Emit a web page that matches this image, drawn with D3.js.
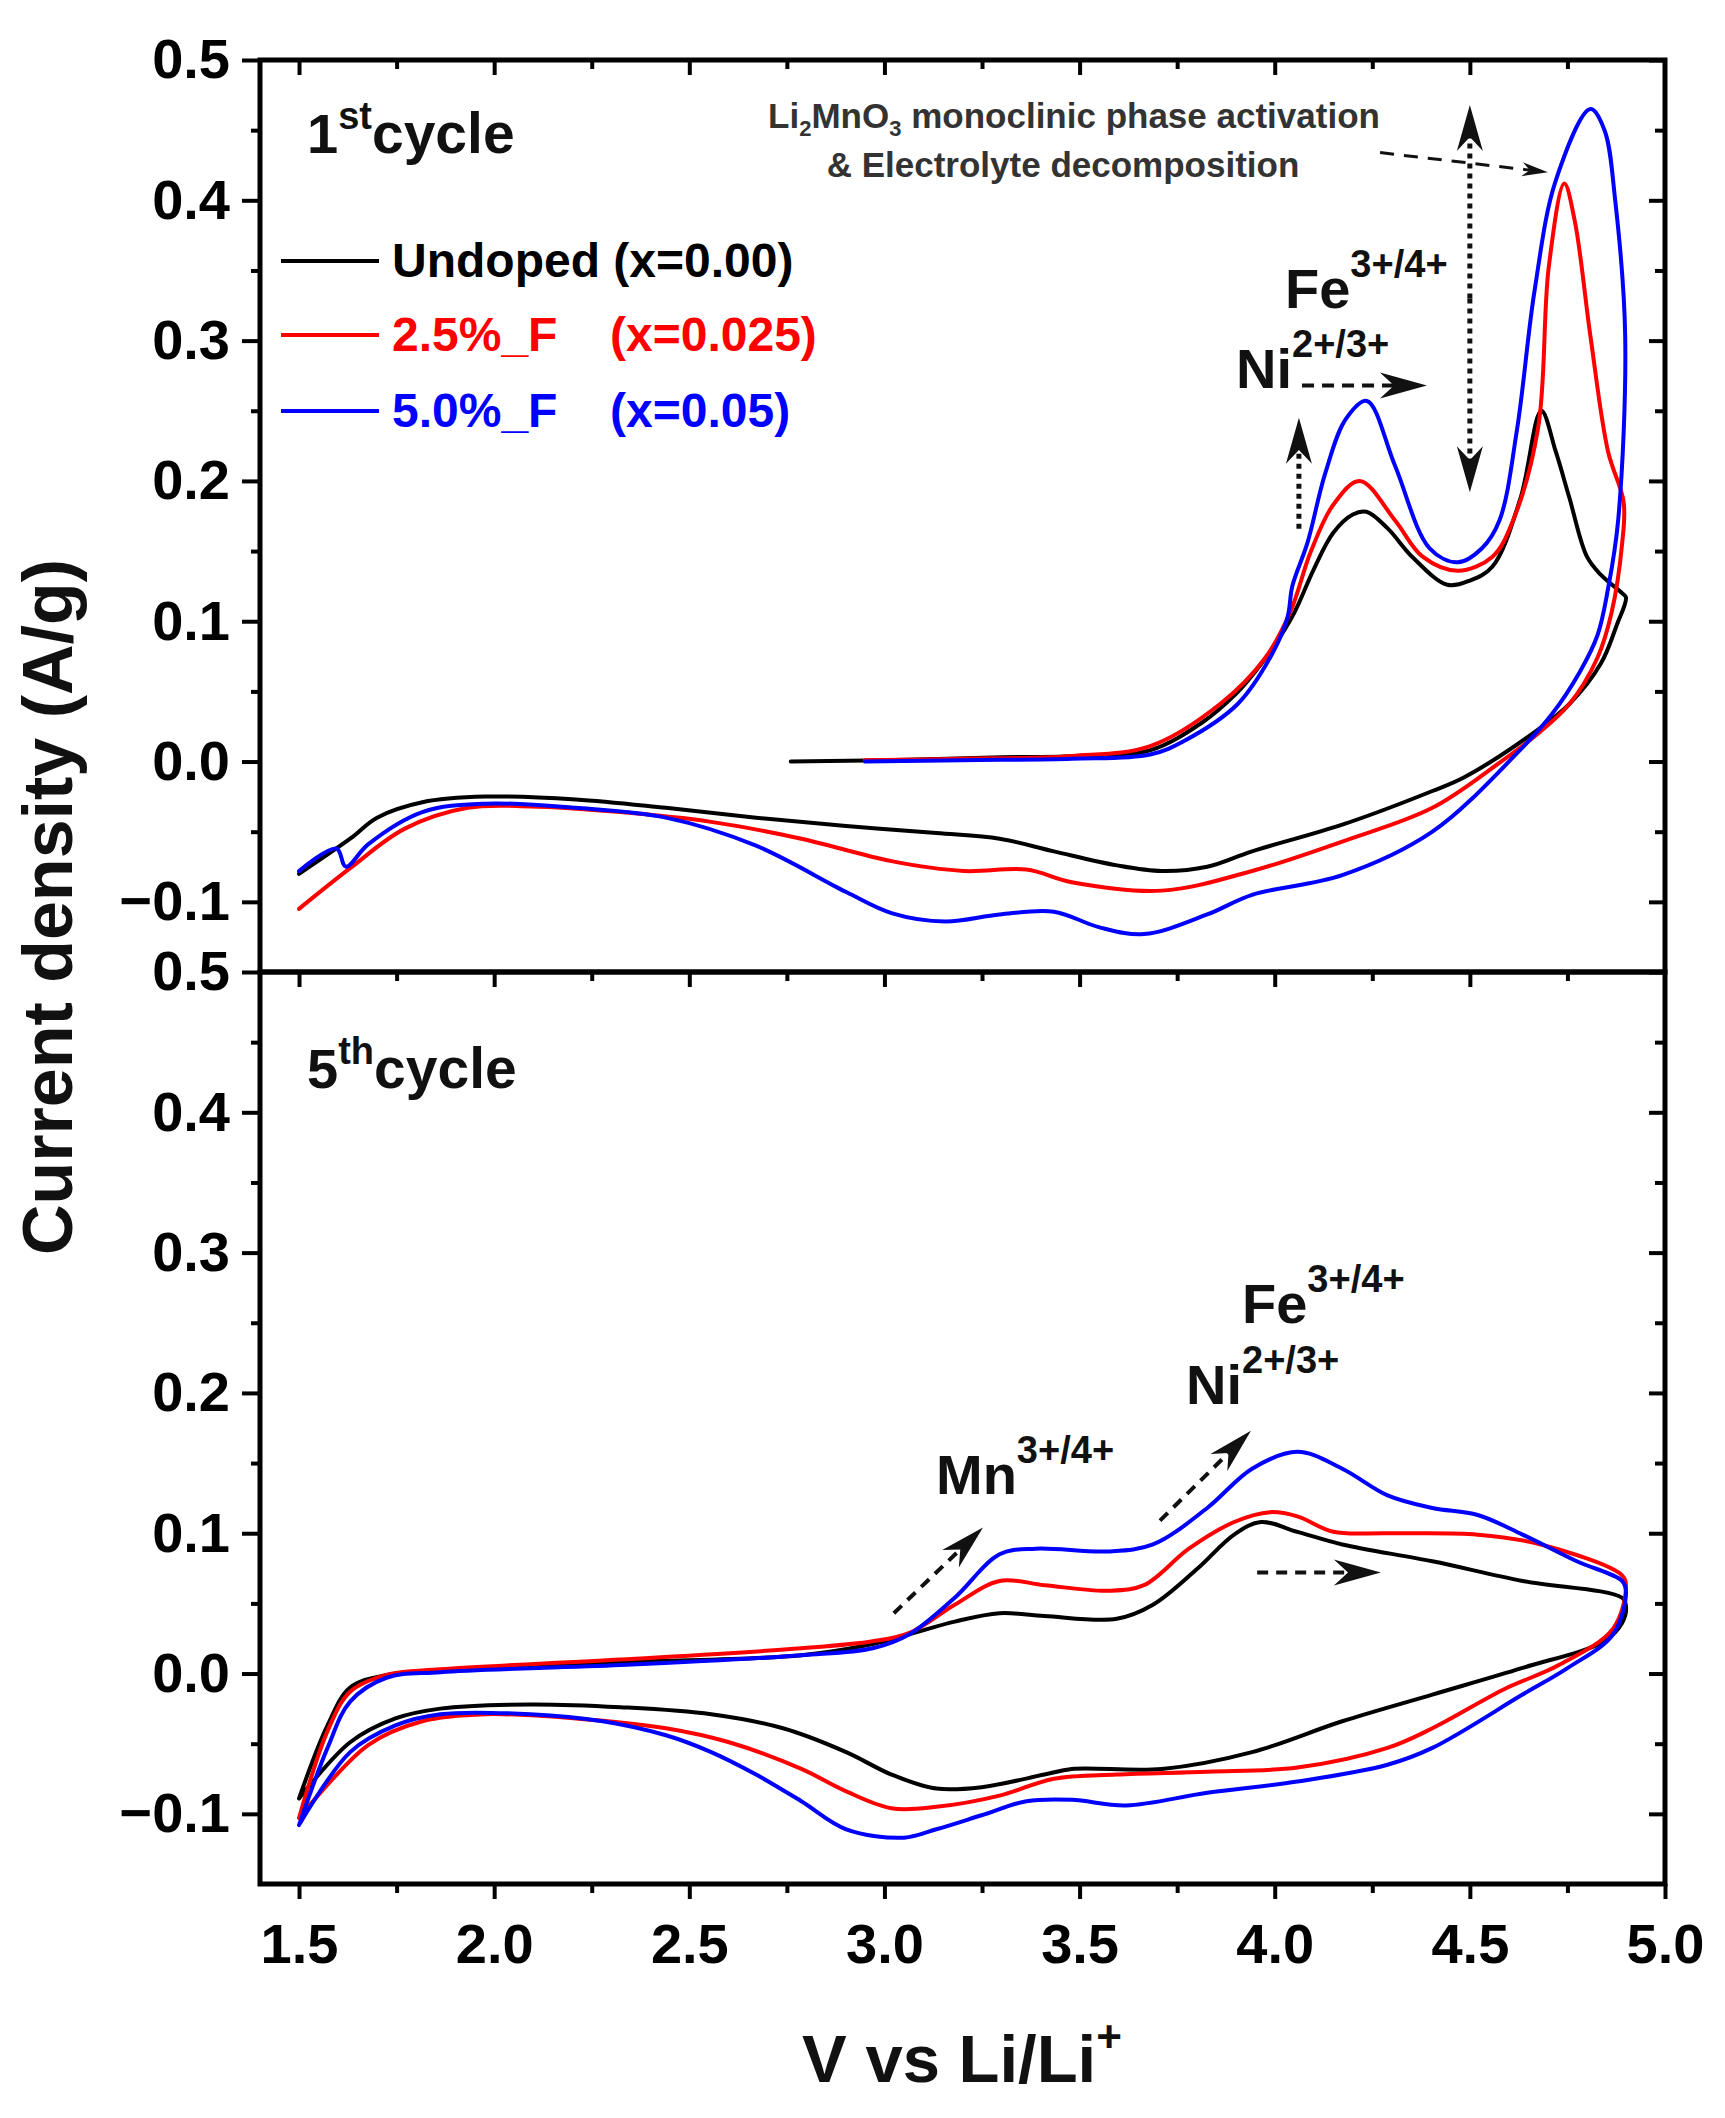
<!DOCTYPE html>
<html><head><meta charset="utf-8">
<script src="https://cdn.jsdelivr.net/npm/d3@7"></script>
<style>
body{margin:0;background:#fff}
svg{display:block}
text{font-family:"Liberation Sans",Arial,Helvetica,sans-serif;font-weight:bold;white-space:pre}
</style>
</head><body>
<script>
// ---------------- DATA ----------------
const seriesNames = ["Undoped (x=0.00)", "2.5%_F", "5.0%_F"];
const seriesX = ["", "(x=0.025)", "(x=0.05)"];
const seriesColors = ["#000000", "#ff0000", "#0000ff"];
const xTicks = [1.5, 2.0, 2.5, 3.0, 3.5, 4.0, 4.5, 5.0];
const xMinor = [1.75, 2.25, 2.75, 3.25, 3.75, 4.25, 4.75];
const yTicks = [-0.1, 0.0, 0.1, 0.2, 0.3, 0.4, 0.5];
const yMinor = [-0.05, 0.05, 0.15, 0.25, 0.35, 0.45];
const panelLabels = [["1", "st", "cycle"], ["5", "th", "cycle"]];

// 1st cycle  [V, A/g]
const undoped1st = [[2.76,0.000],[3.0,0.001],[3.3,0.003],[3.5,0.004],[3.68,0.008],[3.815,0.028],[3.9,0.048],[3.95,0.064],[4.0,0.083],[4.05,0.106],[4.1,0.137],[4.15,0.163],[4.2,0.176],[4.235,0.178],[4.29,0.166],[4.352,0.146],[4.442,0.126],[4.5,0.129],[4.558,0.139],[4.63,0.188],[4.683,0.25],[4.72,0.221],[4.755,0.188],[4.8,0.146],[4.836,0.133],[4.89,0.12],[4.9,0.117],[4.876,0.097],[4.836,0.07],[4.755,0.041],[4.666,0.021],[4.487,-0.011],[4.404,-0.021],[4.173,-0.045],[3.942,-0.064],[3.827,-0.075],[3.711,-0.078],[3.596,-0.074],[3.434,-0.064],[3.295,-0.055],[3.133,-0.051],[2.902,-0.046],[2.671,-0.040],[2.44,-0.033],[2.209,-0.027],[1.978,-0.025],[1.816,-0.029],[1.7,-0.040],[1.631,-0.055],[1.5,-0.080]];
const f25_1st = [[2.95,0.001],[3.2,0.002],[3.48,0.004],[3.681,0.011],[3.86,0.041],[3.976,0.074],[4.039,0.106],[4.093,0.150],[4.15,0.183],[4.218,0.200],[4.308,0.172],[4.379,0.146],[4.469,0.136],[4.558,0.146],[4.611,0.172],[4.675,0.238],[4.702,0.352],[4.742,0.412],[4.769,0.385],[4.809,0.303],[4.854,0.221],[4.894,0.185],[4.89,0.155],[4.863,0.106],[4.827,0.074],[4.755,0.041],[4.666,0.018],[4.58,0.0],[4.404,-0.033],[4.173,-0.057],[3.942,-0.078],[3.711,-0.092],[3.48,-0.086],[3.364,-0.077],[3.203,-0.078],[3.018,-0.071],[2.787,-0.055],[2.556,-0.043],[2.324,-0.036],[2.093,-0.032],[1.932,-0.033],[1.77,-0.048],[1.631,-0.076],[1.5,-0.105]];
const f50_1st = [[2.95,0.000],[3.2,0.001],[3.48,0.002],[3.681,0.005],[3.77,0.015],[3.905,0.041],[3.994,0.077],[4.033,0.103],[4.045,0.125],[4.084,0.156],[4.129,0.205],[4.182,0.244],[4.236,0.257],[4.308,0.211],[4.397,0.152],[4.469,0.142],[4.531,0.152],[4.576,0.172],[4.621,0.237],[4.666,0.336],[4.72,0.414],[4.809,0.465],[4.845,0.450],[4.872,0.401],[4.898,0.303],[4.88,0.172],[4.854,0.123],[4.827,0.090],[4.782,0.064],[4.711,0.034],[4.621,0.006],[4.404,-0.050],[4.173,-0.081],[3.942,-0.095],[3.827,-0.109],[3.665,-0.123],[3.549,-0.118],[3.434,-0.107],[3.295,-0.109],[3.156,-0.114],[3.018,-0.108],[2.902,-0.093],[2.671,-0.060],[2.44,-0.040],[2.209,-0.033],[1.978,-0.030],[1.816,-0.036],[1.677,-0.059],[1.62,-0.075],[1.596,-0.062],[1.5,-0.078]];

// 5th cycle  [V, A/g]
const undoped5th = [[1.5,-0.089],[1.573,-0.037],[1.631,-0.010],[1.724,-0.001],[1.862,0.002],[2.324,0.008],[2.787,0.013],[2.97,0.021],[3.064,0.028],[3.18,0.037],[3.295,0.043],[3.41,0.041],[3.595,0.039],[3.688,0.049],[3.803,0.075],[3.896,0.099],[3.965,0.108],[4.058,0.101],[4.173,0.092],[4.404,0.080],[4.635,0.066],[4.89,0.054],[4.9,0.048],[4.89,0.036],[4.844,0.023],[4.635,0.004],[4.404,-0.015],[4.173,-0.034],[3.942,-0.056],[3.711,-0.068],[3.48,-0.068],[3.41,-0.072],[3.249,-0.081],[3.133,-0.082],[3.018,-0.072],[2.902,-0.056],[2.74,-0.039],[2.556,-0.029],[2.324,-0.024],[2.093,-0.022],[1.862,-0.025],[1.747,-0.032],[1.631,-0.049],[1.5,-0.089]];
const f25_5th = [[1.5,-0.103],[1.573,-0.041],[1.631,-0.013],[1.724,-0.001],[1.862,0.003],[2.324,0.010],[2.787,0.018],[2.97,0.023],[3.064,0.029],[3.18,0.049],[3.295,0.066],[3.41,0.063],[3.572,0.059],[3.665,0.063],[3.78,0.089],[3.896,0.108],[3.988,0.115],[4.058,0.112],[4.15,0.101],[4.289,0.100],[4.52,0.099],[4.682,0.092],[4.89,0.070],[4.9,0.062],[4.867,0.032],[4.728,0.006],[4.589,-0.011],[4.404,-0.039],[4.289,-0.053],[4.058,-0.067],[3.827,-0.070],[3.595,-0.072],[3.434,-0.075],[3.295,-0.087],[3.133,-0.095],[3.018,-0.096],[2.902,-0.084],[2.787,-0.068],[2.602,-0.049],[2.44,-0.039],[2.209,-0.032],[1.978,-0.029],[1.816,-0.034],[1.677,-0.051],[1.5,-0.103]];
const f50_5th = [[1.5,-0.108],[1.573,-0.053],[1.631,-0.020],[1.724,-0.003],[1.862,0.001],[2.324,0.006],[2.787,0.013],[2.97,0.018],[3.064,0.028],[3.18,0.054],[3.295,0.085],[3.388,0.089],[3.572,0.087],[3.688,0.092],[3.827,0.118],[3.942,0.146],[4.058,0.158],[4.173,0.146],[4.289,0.127],[4.404,0.118],[4.52,0.113],[4.635,0.099],[4.774,0.080],[4.89,0.066],[4.9,0.058],[4.867,0.028],[4.751,0.004],[4.635,-0.015],[4.404,-0.053],[4.289,-0.065],[4.058,-0.077],[3.827,-0.085],[3.619,-0.094],[3.48,-0.090],[3.364,-0.091],[3.249,-0.101],[3.133,-0.111],[3.05,-0.117],[2.902,-0.111],[2.787,-0.091],[2.671,-0.072],[2.556,-0.056],[2.44,-0.044],[2.278,-0.034],[2.093,-0.029],[1.862,-0.029],[1.747,-0.037],[1.631,-0.056],[1.5,-0.108]];

const cycle1 = [undoped1st, f25_1st, f50_1st];
const cycle5 = [undoped5th, f25_5th, f50_5th];

// ---------------- LAYOUT ----------------
const W = 1725, H = 2118;
const L = 260, R = 1665;
const panels = [{top: 60, bottom: 972, data: cycle1}, {top: 972, bottom: 1884, data: cycle5}];

const svg = d3.select("body").append("svg").attr("width", W).attr("height", H);
svg.append("rect").attr("width", W).attr("height", H).attr("fill", "#fff");

const x = d3.scaleLinear().domain([1.4, 5.0]).range([L, R]);
const ys = panels.map(p => d3.scaleLinear().domain([-0.15, 0.5]).range([p.bottom, p.top]));

function styleAxis(g, fs) {
  g.select(".domain").remove();
  g.selectAll(".tick line").attr("stroke", "#000").attr("stroke-width", 4);
  g.selectAll(".tick text").attr("fill", "#000").attr("font-size", fs)
    .attr("font-family", '"Liberation Sans",Arial,sans-serif').attr("font-weight", "bold");
  g.attr("font-size", null).attr("font-family", null);
}

const line = y => d3.line().x(d => x(d[0])).y(d => y(d[1])).curve(d3.curveCatmullRom.alpha(0.5));

panels.forEach((p, i) => {
  const y = ys[i];
  const g = svg.append("g");
  p.data.forEach((s, k) => {
    g.append("path").datum(s).attr("d", line(y)).attr("fill", "none")
      .attr("stroke", seriesColors[k]).attr("stroke-width", 4)
      .attr("stroke-linejoin", "round").attr("stroke-linecap", "round");
  });
  g.append("g").attr("transform", `translate(${L},0)`)
    .call(d3.axisLeft(y).tickValues(yTicks).tickSize(18).tickPadding(12).tickFormat(d3.format(".1f")))
    .call(a => styleAxis(a, 56));
  g.append("g").attr("transform", `translate(${L},0)`)
    .call(d3.axisLeft(y).tickValues(yMinor).tickSize(9).tickFormat(""))
    .call(a => styleAxis(a, 56));
  g.append("g").attr("transform", `translate(${R},0)`)
    .call(d3.axisLeft(y).tickValues(yTicks).tickSize(16).tickFormat(""))
    .call(a => styleAxis(a, 56));
  g.append("g").attr("transform", `translate(${R},0)`)
    .call(d3.axisLeft(y).tickValues(yMinor).tickSize(10).tickFormat(""))
    .call(a => styleAxis(a, 56));
  g.append("g").attr("transform", `translate(0,${p.top})`)
    .call(d3.axisBottom(x).tickValues(xTicks.filter(v => v < 5)).tickSize(15).tickFormat(""))
    .call(a => styleAxis(a, 56));
  g.append("g").attr("transform", `translate(0,${p.top})`)
    .call(d3.axisBottom(x).tickValues(xMinor).tickSize(9).tickFormat(""))
    .call(a => styleAxis(a, 56));
  if (i === 1) {
    g.append("g").attr("transform", `translate(0,${p.bottom})`)
      .call(d3.axisBottom(x).tickValues(xTicks).tickSize(15).tickPadding(24).tickFormat(d3.format(".1f")))
      .call(a => styleAxis(a, 56));
    g.append("g").attr("transform", `translate(0,${p.bottom})`)
      .call(d3.axisBottom(x).tickValues(xMinor).tickSize(9).tickFormat(""))
      .call(a => styleAxis(a, 56));
  }
  g.append("rect").attr("x", L).attr("y", p.top).attr("width", R - L).attr("height", p.bottom - p.top)
    .attr("fill", "none").attr("stroke", "#000").attr("stroke-width", 5);
  const lbl = panelLabels[i];
  const t = g.append("text").attr("x", 307).attr("y", p.top + (i === 0 ? 93 : 116)).attr("fill", "#111");
  t.append("tspan").attr("font-size", 56).text(lbl[0]);
  t.append("tspan").attr("font-size", 38).attr("dy", -24).text(lbl[1]);
  t.append("tspan").attr("font-size", 57).attr("dy", 24).text(lbl[2]);
});

// ---------------- LEGEND ----------------
const legY = [261, 335, 411];
seriesNames.forEach((n, k) => {
  svg.append("line").attr("x1", 281).attr("x2", 379).attr("y1", legY[k]).attr("y2", legY[k])
    .attr("stroke", seriesColors[k]).attr("stroke-width", 4);
  svg.append("text").attr("x", 392).attr("y", legY[k] + 16).attr("font-size", 48)
    .attr("fill", seriesColors[k]).text(n);
  if (seriesX[k]) svg.append("text").attr("x", 610).attr("y", legY[k] + 16).attr("font-size", 48)
    .attr("fill", seriesColors[k]).text(seriesX[k]);
});

// ---------------- ANNOTATIONS ----------------
function ionLabel(px, py, base, sup) {
  const t = svg.append("text").attr("x", px).attr("y", py).attr("fill", "#111");
  t.append("tspan").attr("font-size", 56).text(base);
  t.append("tspan").attr("font-size", 38).attr("dy", -31).text(sup);
}
ionLabel(1285, 308, "Fe", "3+/4+");
ionLabel(1236, 388, "Ni", "2+/3+");
ionLabel(1242, 1323, "Fe", "3+/4+");
ionLabel(1186, 1404, "Ni", "2+/3+");
ionLabel(936, 1494, "Mn", "3+/4+");

const ann1 = svg.append("text").attr("x", 1074).attr("y", 128).attr("text-anchor", "middle")
  .attr("font-size", 35).attr("fill", "#333");
ann1.append("tspan").text("Li");
ann1.append("tspan").attr("font-size", 22).attr("dy", 8).text("2");
ann1.append("tspan").attr("dy", -8).text("MnO");
ann1.append("tspan").attr("font-size", 22).attr("dy", 8).text("3");
ann1.append("tspan").attr("dy", -8).text(" monoclinic phase activation");
svg.append("text").attr("x", 1063).attr("y", 177).attr("text-anchor", "middle")
  .attr("font-size", 35).attr("fill", "#333").text("& Electrolyte decomposition");

// arrows in data coordinates: [panel, v0, i0, v1, i1, dash, width, headLen, headHalf]
const arrows = [
  [0, 4.07, 0.268, 4.39, 0.268, "12,8", 4, 47, 13],
  [0, 4.062, 0.166, 4.062, 0.245, "5,5", 5, 46, 13],
  [0, 4.5, 0.33, 4.5, 0.468, "5,5", 5, 46, 13],
  [0, 4.5, 0.33, 4.5, 0.192, "5,5", 5, 46, 13],
  [0, 4.27, 0.434, 4.70, 0.420, "14,10", 3, 26, 7],
  [1, 3.024, 0.043, 3.2525, 0.104, "11,8", 4, 45, 12],
  [1, 3.706, 0.109, 3.939, 0.173, "11,8", 4, 45, 12],
  [1, 3.955, 0.072, 4.272, 0.072, "11,8", 4, 47, 13]
];
arrows.forEach(a => {
  const y = ys[a[0]];
  const x0 = x(a[1]), y0 = y(a[2]), x1 = x(a[3]), y1 = y(a[4]);
  const len = Math.hypot(x1 - x0, y1 - y0);
  const ux = (x1 - x0) / len, uy = (y1 - y0) / len;
  const px = -uy, py = ux;
  const hl = a[7], hw = a[8];
  const nx = x1 - ux * hl * 0.7, ny = y1 - uy * hl * 0.7;
  svg.append("line").attr("x1", x0).attr("y1", y0).attr("x2", nx).attr("y2", ny)
    .attr("stroke", "#111").attr("stroke-width", a[6]).attr("stroke-dasharray", a[5]);
  const pts = [[x1, y1], [x1 - ux * hl + px * hw, y1 - uy * hl + py * hw], [nx, ny], [x1 - ux * hl - px * hw, y1 - uy * hl - py * hw]];
  svg.append("path").attr("d", "M" + pts.map(q => q.join(",")).join("L") + "Z").attr("fill", "#111");
});

// ---------------- AXIS TITLES ----------------
const xt = svg.append("text").attr("x", 962).attr("y", 2082).attr("text-anchor", "middle").attr("fill", "#111");
xt.append("tspan").attr("font-size", 67).text("V vs Li/Li");
xt.append("tspan").attr("font-size", 44).attr("dy", -30).text("+");

svg.append("text").attr("transform", "translate(72,907) rotate(-90)").attr("text-anchor", "middle")
  .attr("font-size", 70).attr("fill", "#111").text("Current density (A/g)");
</script>
</body></html>
